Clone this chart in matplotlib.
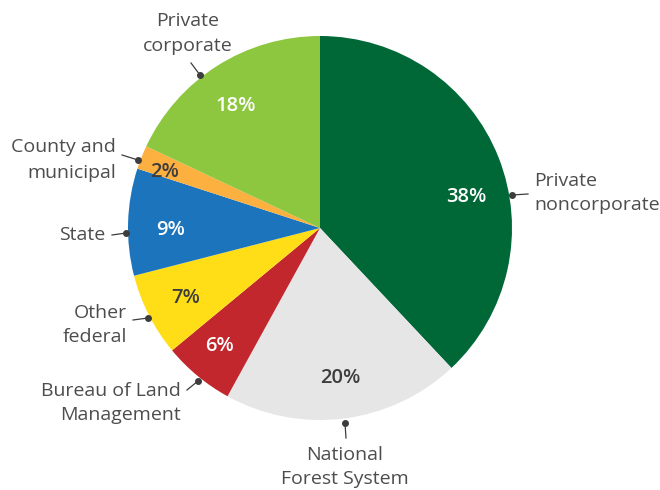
import matplotlib.pyplot as plt

# land ownership shares, clockwise from 12 o'clock
owners = ["Private\nnoncorporate", "National\nForest System", "Bureau of Land\nManagement",
          "Other\nfederal", "State", "County and\nmunicipal", "Private\ncorporate"]
shares = [38, 20, 6, 7, 9, 2, 18]
colors = ["#006837", "#e6e6e6", "#c1272d", "#ffde17", "#1c75bc", "#fbb040", "#8dc63f"]
pct_colors = ["white", "#3d3d3d", "white", "#3d3d3d", "white", "#3d3d3d", "white"]

H = 490
plt.rcParams['font.family'] = ['Open Sans', 'DejaVu Sans']

fig = plt.figure(figsize=(6.6, 4.9), dpi=100, facecolor='w')
ax = fig.add_axes([0, 0, 1, 1])
cx, cy, r = 320, H - 228, 192

wedges, _ = ax.pie(shares, colors=colors, startangle=90, counterclock=False,
                   center=(cx, cy), radius=r,
                   wedgeprops=dict(linewidth=0))

# percent labels (pixel positions, y from top)
pct_pos = [(466, 197), (340, 378), (219, 346), (186, 298), (171, 230), (165, 172), (236, 106)]
for (x, y), s, c in zip(pct_pos, shares, pct_colors):
    ax.text(x, H - y, f"{s}%", color=c, fontsize=14.5, fontweight='semibold',
            ha='center', va='center')

# name labels: text position, alignment, leader start, dot
label_spec = [
    ((534, 193), 'left', (528, 194), (512, 195)),
    ((345, 467), 'center', (346, 438), (345, 423)),
    ((181, 403), 'right', (187, 390), (198, 381)),
    ((127, 325), 'right', (133, 320), (148, 318)),
    ((105, 235), 'right', (112, 235), (126, 233)),
    ((116, 160), 'right', (122, 155), (138, 160)),
    ((188, 34), 'center', (191, 63), (200, 75)),
]
for name, (tpos, ha, lstart, dot) in zip(owners, label_spec):
    ax.text(tpos[0], H - tpos[1], name, color='#4d4d4d', fontsize=14,
            ha=ha, va='center', multialignment=ha, linespacing=1.5)
    ax.plot([lstart[0], dot[0]], [H - lstart[1], H - dot[1]], color='#3d3d3d', lw=0.9)
    ax.plot(dot[0], H - dot[1], 'o', color='#3d3d3d', ms=4)

ax.set_xlim(0, 660)
ax.set_ylim(0, H)
ax.axis('off')
fig.savefig("out.png", dpi=100)
